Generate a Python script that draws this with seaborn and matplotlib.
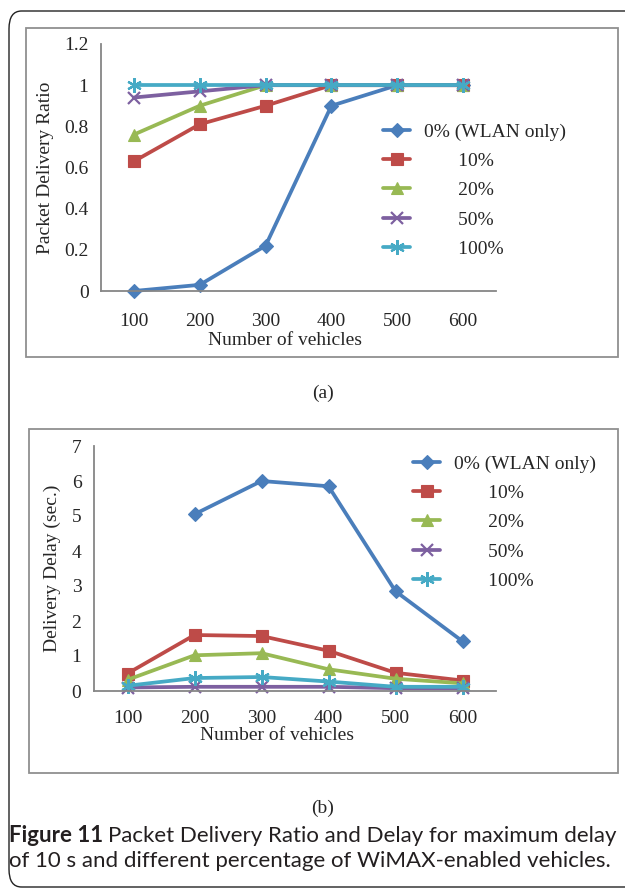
import numpy as np
import pandas as pd
import seaborn as sns
import matplotlib.pyplot as plt
from matplotlib.patches import FancyBboxPatch, Rectangle
from matplotlib.ticker import FixedLocator, FormatStrFormatter

vehicles = ["100", "200", "300", "400", "500", "600"]
series = ["0% (WLAN only)", "10%", "20%", "50%", "100%"]
legend_labels = ["0% (WLAN only)", "       10%", "       20%", "       50%", "       100%"]

pdr_0 = [0.0, 0.03, 0.22, 0.90, 1.0, 1.0]
pdr_10 = [0.63, 0.81, 0.90, 1.0, 1.0, 1.0]
pdr_20 = [0.76, 0.90, 1.0, 1.0, 1.0, 1.0]
pdr_50 = [0.94, 0.97, 1.0, 1.0, 1.0, 1.0]
pdr_100 = [1.0, 1.0, 1.0, 1.0, 1.0, 1.0]

delay_0 = [np.nan, 5.05, 6.0, 5.85, 2.85, 1.42]
delay_10 = [0.50, 1.60, 1.57, 1.15, 0.52, 0.30]
delay_20 = [0.32, 1.02, 1.08, 0.62, 0.35, 0.22]
delay_50 = [0.10, 0.12, 0.12, 0.12, 0.08, 0.08]
delay_100 = [0.15, 0.37, 0.40, 0.27, 0.12, 0.12]

colors = ["#4A7EBB", "#BE4B48", "#98B954", "#7D60A0", "#46AAC5"]
markers = ["D", "s", "^", "x", (6, 2, 0)]
sizes = [7.5, 8.5, 8.5, 8.5, 10.5]

sns.set_style("white")
plt.rcParams["font.family"] = ["Liberation Serif", "DejaVu Serif"]

W, H = 625, 891
fig = plt.figure(figsize=(W / 100, H / 100), dpi=100)


def fx(px):
    return px / W


def fy(py):
    return 1 - py / H


# outer rounded frame and panel frames
fig.patches.append(FancyBboxPatch((fx(9), fy(887)), fx(660), fy(11) - fy(887),
                                  boxstyle="round,pad=0,rounding_size=0.02",
                                  transform=fig.transFigure, fill=False, ec="#222222", lw=1.0))
fig.patches.append(Rectangle((fx(26), fy(357)), fx(592), fy(28) - fy(357), transform=fig.transFigure,
                             fill=False, ec="#909090", lw=1.3))
fig.patches.append(Rectangle((fx(29), fy(773)), fx(589), fy(429) - fy(773), transform=fig.transFigure,
                             fill=False, ec="#909090", lw=1.3))

FS = 14


def panel(rect, data, ymax, ystep, ylabel, xpad, xlpad, xlx, ylpad, leg_xy, leg_space):
    ax = fig.add_axes(rect)
    df = pd.DataFrame({"vehicles": vehicles})
    for name, vals in zip(series, data):
        df[name] = vals
    long = df.melt(id_vars="vehicles", var_name="series", value_name="value")
    for name, lab, c, m, s in zip(series, legend_labels, colors, markers, sizes):
        sub = long[long["series"] == name]
        sns.lineplot(data=sub, x="vehicles", y="value", color=c, marker=m, markersize=s,
                     markeredgecolor=c, markeredgewidth=1.6 if m in ("x", (6, 2, 0)) else 0.8,
                     lw=2.7, label=lab, ax=ax, clip_on=False, sort=False)
    ax.set_xlim(-0.5, 5.5)
    ax.set_ylim(0, ymax)
    ax.set_yticks(np.arange(0, ymax + ystep / 2, ystep))
    ax.yaxis.set_major_formatter(FormatStrFormatter("%g"))
    ax.xaxis.set_minor_locator(FixedLocator(np.arange(-0.5, 6, 1)))
    ax.tick_params(axis="x", which="major", length=0, pad=xpad, labelsize=FS)
    ax.tick_params(axis="x", which="minor", length=5, width=1.2, color="#868686", direction="out")
    ax.tick_params(axis="y", length=4, width=1.2, color="#868686", direction="out", pad=5, labelsize=FS)
    for side in ["top", "right"]:
        ax.spines[side].set_visible(False)
    for side in ["left", "bottom"]:
        ax.spines[side].set_color("#868686")
        ax.spines[side].set_linewidth(1.3)
    ax.set_xlabel("Number of vehicles", fontsize=FS, labelpad=xlpad)
    ax.xaxis.label.set_x(xlx)
    ax.set_ylabel(ylabel, fontsize=FS, labelpad=ylpad)
    ax.grid(False)
    ax.set_facecolor("none")
    ax.legend(loc="upper left", bbox_to_anchor=leg_xy, bbox_transform=fig.transFigure,
              frameon=False, fontsize=FS, handlelength=1.4, handletextpad=0.7,
              labelspacing=leg_space, borderaxespad=0, borderpad=0)
    return ax


panel([fx(101), fy(291), fx(395), fy(44) - fy(291)],
      [pdr_0, pdr_10, pdr_20, pdr_50, pdr_100], 1.2, 0.2,
      "Packet Delivery Ratio", 16, 1, 0.5 - 14 / 395, 7, (fx(383), fy(123)), 0.6)
panel([fx(94), fy(691), fx(402), fy(446) - fy(691)],
      [delay_0, delay_10, delay_20, delay_50, delay_100], 7, 1,
      "Delivery Delay (sec.)", 13.5, 0, 0.5 - 18 / 402, 8, (fx(413), fy(455)), 0.6)

fig.text(fx(323), fy(393), "(a)", ha="center", va="center", fontsize=FS)
fig.text(fx(323), fy(808), "(b)", ha="center", va="center", fontsize=FS)

cap_font = ["Lato", "DejaVu Sans"]
cap_fs = 16
t1 = fig.text(fx(9), fy(836), "Figure 11", fontsize=cap_fs, fontweight="bold", family=cap_font,
              va="center", color="#231f20")
fig.canvas.draw()
bb = t1.get_window_extent()
fig.text(bb.x1 / W + fx(5), fy(836), "Packet Delivery Ratio and Delay for maximum delay",
         fontsize=cap_fs, family=cap_font, va="center", color="#231f20")
fig.text(fx(9), fy(861), "of 10 s and different percentage of WiMAX-enabled vehicles.",
         fontsize=cap_fs, family=cap_font, va="center", color="#231f20")

fig.savefig("out.png", dpi=100)
